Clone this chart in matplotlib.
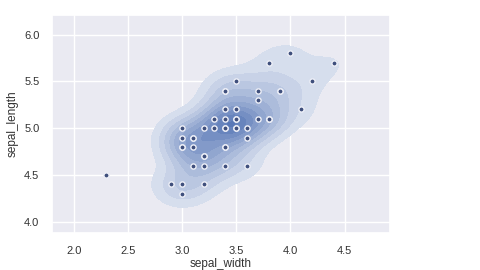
import numpy as np
import matplotlib
matplotlib.use("Agg")
import matplotlib.pyplot as plt
import seaborn as sns
from matplotlib.colors import LinearSegmentedColormap

# setosa measurements (cm)
sepal_width = [3.5, 3.0, 3.2, 3.1, 3.6, 3.9, 3.4, 3.4, 2.9, 3.1,
               3.7, 3.4, 3.0, 3.0, 4.0, 4.4, 3.9, 3.5, 3.8, 3.8,
               3.4, 3.7, 3.6, 3.3, 3.4, 3.0, 3.4, 3.5, 3.4, 3.2,
               3.1, 3.4, 4.1, 4.2, 3.1, 3.2, 3.5, 3.6, 3.0, 3.4,
               3.5, 2.3, 3.2, 3.5, 3.8, 3.0, 3.8, 3.2, 3.7, 3.3]
sepal_length = [5.1, 4.9, 4.7, 4.6, 5.0, 5.4, 4.6, 5.0, 4.4, 4.9,
                5.4, 4.8, 4.8, 4.3, 5.8, 5.7, 5.4, 5.1, 5.7, 5.1,
                5.4, 5.1, 4.6, 5.1, 4.8, 5.0, 5.0, 5.2, 5.2, 4.7,
                4.8, 5.4, 5.2, 5.5, 4.9, 5.0, 5.5, 4.9, 4.4, 5.1,
                5.0, 4.5, 4.4, 5.0, 5.1, 4.8, 5.1, 4.6, 5.3, 5.0]

x = np.array(sepal_width)
y = np.array(sepal_length)


def scott_bw(v):
    # univariate scott rule, one bandwidth per axis
    iqr = np.subtract(*np.percentile(v, [75, 25]))
    a = min(np.std(v, ddof=1), iqr / 1.349)
    return 1.059 * a * len(v) ** -0.2


bx, by = scott_bw(x), scott_bw(y)
gx = np.linspace(1.7, 5.0, 200)
gy = np.linspace(3.8, 6.3, 200)
xx, yy = np.meshgrid(gx, gy)
zz = np.zeros_like(xx)
for xi, yi in zip(x, y):
    zz += np.exp(-0.5 * (((xx - xi) / bx) ** 2 + ((yy - yi) / by) ** 2))
zz /= len(x) * 2 * np.pi * bx * by

sns.set_theme(style="darkgrid")
plt.rcParams["font.family"] = ["Liberation Sans", "DejaVu Sans"]

fig = plt.figure(figsize=(4.8, 2.7), dpi=100)
ax = fig.add_axes([52 / 480, 1 - 233 / 270, 338 / 480, 218 / 270])

cmap = LinearSegmentedColormap.from_list("setosa", ["#dde3f0", "#5273b4"])
cs = ax.contourf(xx, yy, zz, 10, cmap=cmap, zorder=2)
levels = cs.levels
ax.cla()
# lowest band left unshaded
ax.contourf(xx, yy, zz, levels[1:], cmap=cmap, zorder=2)

ax.scatter(x, y, s=14, color="#3f4f7c", edgecolor="#eef0f8",
           linewidth=1.0, zorder=3)

ax.set_xlim(1.8, 4.92)
ax.set_ylim(3.88, 6.21)
ax.set_xticks([2.0, 2.5, 3.0, 3.5, 4.0, 4.5])
ax.set_yticks([4.0, 4.5, 5.0, 5.5, 6.0])
ax.grid(True, color="white", linewidth=1.0)
ax.tick_params(labelsize=8, pad=3, labelcolor="#333333")
ax.set_xlabel("sepal_width", fontsize=8.5, labelpad=2, color="#333333")
ax.set_ylabel("sepal_length", fontsize=8.5, labelpad=4, color="#333333")

fig.savefig("out.png", dpi=100)
